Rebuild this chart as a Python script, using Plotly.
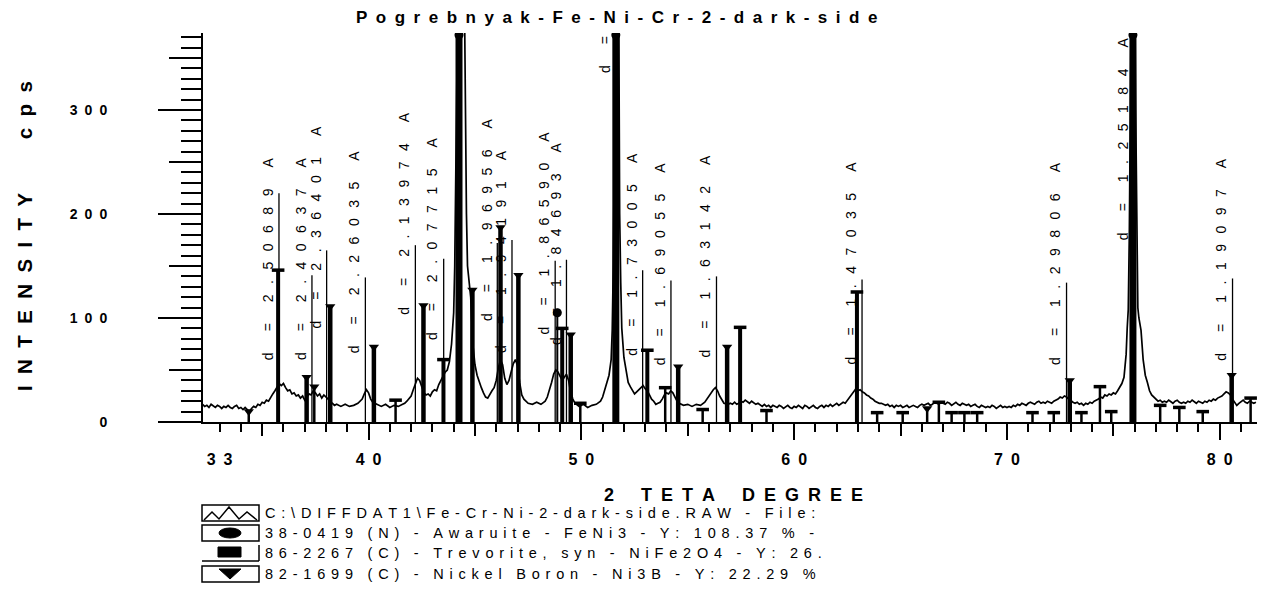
import plotly.graph_objects as go

# ---------------- data ----------------
two_theta = [
    32.2, 32.3, 32.4, 32.5, 32.6, 32.7, 32.8, 32.9, 33.0, 33.1, 33.2, 33.3, 33.4, 33.5, 33.6,
    33.7, 33.8, 33.9, 34.0, 34.1, 34.2, 34.3, 34.4, 34.5, 34.6, 34.7, 34.8, 34.9, 35.0,
    35.1, 35.2, 35.3, 35.4, 35.5, 35.6, 35.7, 35.8, 35.9, 36.0, 36.1, 36.2, 36.3, 36.4, 36.5,
    36.6, 36.7, 36.8, 36.9, 37.0, 37.1, 37.2, 37.3, 37.4, 37.5, 37.6, 37.7, 37.8, 37.9, 38.0,
    38.1, 38.2, 38.3, 38.4, 38.5,
    38.7, 38.9, 39.1, 39.3, 39.5, 39.7, 39.8, 39.9, 40.0, 40.1, 40.2, 40.4, 40.6, 40.8, 41.0,
    41.2, 41.4, 41.6,
    41.7, 41.8, 41.9, 42.0, 42.1, 42.2, 42.3, 42.4, 42.5, 42.6, 42.7, 42.8, 42.9, 43.0, 43.1,
    43.2, 43.3, 43.4, 43.5, 43.6, 43.7, 43.8, 43.9, 44.0, 44.05, 44.1, 44.15, 44.2, 44.3, 44.4,
    44.5, 44.55, 44.6, 44.65, 44.7, 44.8, 44.9, 45.0, 45.1, 45.2, 45.3, 45.4, 45.5, 45.6, 45.7, 45.8,
    45.9, 46.0, 46.1, 46.2, 46.3, 46.4, 46.5, 46.6, 46.7, 46.8, 46.9, 47.0, 47.1, 47.2, 47.3,
    47.4, 47.5, 47.7, 47.9, 48.1, 48.3, 48.4, 48.5, 48.6, 48.7, 48.8, 48.9, 49.0, 49.1, 49.2,
    49.3, 49.4, 49.5, 49.6, 49.7, 49.9, 50.1, 50.3, 50.5, 50.7, 50.9,
    51.0, 51.1, 51.2, 51.3, 51.4, 51.45, 51.5, 51.55, 51.6, 51.7, 51.75, 51.8, 51.85, 51.9,
    52.0, 52.1, 52.2, 52.3, 52.4, 52.5, 52.6, 52.7, 52.8, 52.9, 53.0, 53.1, 53.2, 53.3, 53.4,
    53.5, 53.6, 53.7, 53.8, 53.9,
    54.0, 54.1, 54.2, 54.3, 54.4, 54.5, 54.6, 54.8, 55.0, 55.2, 55.4, 55.6, 55.8, 55.9, 56.0,
    56.1, 56.2, 56.3, 56.4, 56.5, 56.6, 56.7, 56.9,
    57.0, 57.1, 57.2, 57.3, 57.4, 57.5, 57.6, 57.7, 57.8, 57.9,
    58.0, 58.1, 58.2, 58.3, 58.4, 58.5, 58.6, 58.7, 58.8, 58.9,
    59.0, 59.1, 59.2, 59.3, 59.4, 59.5, 59.6, 59.7, 59.8, 59.9,
    60.0, 60.1, 60.2, 60.3, 60.4, 60.5, 60.6, 60.7, 60.8, 60.9,
    61.0, 61.1, 61.2, 61.3, 61.4, 61.5, 61.6, 61.7, 61.8, 61.9,
    62.0, 62.1, 62.2, 62.3, 62.4, 62.5,
    62.6, 62.7, 62.8, 62.9, 63.0, 63.1, 63.2, 63.3, 63.4, 63.5, 63.6, 63.7, 63.8, 63.9, 64.0,
    64.1, 64.2, 64.3, 64.4, 64.5, 64.6, 64.7, 64.8, 64.9, 65.0,
    65.1, 65.2, 65.3, 65.4, 65.5, 65.6, 65.7, 65.8, 65.9, 66.0,
    66.1, 66.2, 66.3, 66.4, 66.5, 66.6, 66.7, 66.8, 66.9, 67.0,
    67.1, 67.2, 67.3, 67.4, 67.5, 67.6, 67.7, 67.8, 67.9, 68.0,
    68.1, 68.2, 68.3, 68.4, 68.5, 68.6, 68.7, 68.8, 68.9, 69.0,
    69.1, 69.2, 69.3, 69.4, 69.5, 69.6, 69.7, 69.8, 69.9, 70.0,
    70.1, 70.2, 70.3, 70.4, 70.5, 70.6, 70.7, 70.8, 70.9, 71.0,
    71.1, 71.2, 71.3, 71.4, 71.5, 71.6, 71.7, 71.8, 71.9, 72.0,
    72.1, 72.2, 72.3, 72.4, 72.5, 72.6, 72.7, 72.8, 72.9, 73.0,
    73.1, 73.2, 73.3, 73.4, 73.5, 73.6, 73.7, 73.8, 73.9, 74.0,
    74.1, 74.2,
    74.3, 74.4, 74.5, 74.6, 74.7, 74.8, 74.9, 75.0, 75.1, 75.2, 75.3, 75.4, 75.5, 75.6, 75.65,
    75.7, 75.75, 75.8, 75.85, 75.9, 76.0, 76.05, 76.1, 76.15, 76.2, 76.3, 76.4, 76.5, 76.6,
    76.7, 76.8, 76.9, 77.0, 77.1, 77.2, 77.3,
    77.4, 77.5, 77.6, 77.7, 77.8, 77.9, 78.0, 78.1, 78.2, 78.3,
    78.4, 78.5, 78.6, 78.7, 78.8, 78.9, 79.0, 79.1, 79.2, 79.3,
    79.4, 79.5, 79.6, 79.7, 79.8, 79.9,
    80.0, 80.1, 80.2, 80.3, 80.4, 80.5, 80.6, 80.7, 80.8, 80.9,
    81.0, 81.1, 81.2, 81.3, 81.4, 81.5, 81.6, 81.7,
]
counts = [
    17, 15, 16, 14, 17, 15, 14, 16, 15, 13, 15, 14, 16, 14, 13,
    15, 16, 13, 14, 12, 14, 12, 10, 13, 15, 14, 17, 16, 19,
    18, 21, 20, 24, 27, 30, 34, 37, 35, 37, 33, 30, 31, 27, 28,
    25, 26, 23, 25, 21, 24, 27, 26, 30, 28, 25, 27, 23, 26, 24,
    22, 19, 18, 16, 17,
    15, 17, 15, 16, 18, 22, 27, 31, 28, 22, 19, 17, 15, 17, 14,
    16, 15, 17,
    18, 20, 22, 25, 31, 37, 42, 40, 33, 28, 26, 27, 25, 29, 31,
    30, 36, 40, 44, 48, 50, 58, 75, 105, 150, 230, 330, 450, 560, 540,
    420, 300, 200, 150, 140, 120, 75, 55, 45, 38, 33, 28, 24, 23, 27, 30,
    33, 40, 52, 60, 55, 42, 36, 40, 48, 56, 60, 54, 38, 26, 22,
    20, 18, 17, 19, 17, 20, 24, 30, 38, 46, 50, 48, 44, 40, 43,
    46, 40, 28, 22, 18, 15, 17, 14, 16, 17, 20,
    24, 30, 38, 45, 60, 88, 150, 260, 400, 470, 430, 200, 134, 90,
    62, 48, 38, 34, 30, 27, 29, 31, 33, 35, 32, 30, 26, 22, 20,
    17, 18, 19, 22, 26,
    28, 27, 30, 28, 24, 20, 18, 16, 17, 15, 17, 16, 19, 22, 26,
    29, 31, 33, 30, 25, 21, 18, 17,
    18, 17, 19, 17, 18, 20, 19, 21, 19, 18,
    20, 18, 17, 18, 16, 15, 17, 15, 16, 14,
    16, 15, 14, 16, 15, 13, 15, 16, 14, 13,
    15, 14, 16, 14, 13, 16, 15, 13, 15, 16,
    14, 13, 15, 16, 14, 16, 15, 17, 15, 17,
    18, 16, 18, 19, 18, 21,
    24, 27, 30, 32, 30, 31, 29, 28, 26, 25, 23, 22, 20, 19, 18,
    18, 17, 16, 17, 15, 16, 14, 16, 15, 16,
    14, 15, 16, 14, 15, 16, 15, 14, 16, 17,
    16, 17, 18, 16, 17, 19, 18, 17, 19, 18,
    17, 19, 18, 16, 18, 19, 17, 16, 18, 17,
    16, 17, 15, 16, 17, 15, 14, 16, 15, 14,
    15, 14, 16, 15, 13, 15, 16, 14, 15, 14,
    15, 14, 16, 15, 17, 16, 18, 17, 16, 18,
    19, 18, 17, 19, 20, 18, 19, 18, 20, 19,
    18, 20, 21, 22, 24, 23, 25, 24, 22, 21,
    19, 18, 19, 17, 18, 16, 18, 17, 19, 18,
    20, 21,
    22, 24, 23, 26, 25, 27, 26, 28, 27, 30, 33, 37, 43, 65, 90,
    108, 180, 330, 430, 460, 440, 300, 160, 110, 100, 88, 60, 45, 38,
    30, 26, 24, 22, 20, 21, 19,
    20, 19, 21, 19, 18, 20, 21, 19, 18, 19,
    18, 20, 19, 21, 19, 18, 20, 19, 18, 20,
    19, 21, 20, 22, 21, 23,
    24, 25, 27, 29, 28, 26, 22, 19, 16, 18,
    20, 21, 19, 18, 20, 19, 18, 19,
]
assert len(two_theta) == len(counts)

# reference patterns (stick positions in 2-theta, heights in cps)
awaruite_pos = [44.25, 48.87, 51.62, 75.92]
awaruite_h = [372, 105, 372, 372]
trevorite_pos = [35.75, 41.27, 43.52, 49.10, 49.95, 53.10, 53.94, 55.70, 57.46, 58.70,
                 62.95, 63.90, 65.10, 66.80, 67.40, 68.00, 68.60, 71.20, 72.20, 73.50,
                 74.37, 74.90, 77.20, 78.10, 79.20, 81.45]
trevorite_h = [146, 21, 60, 90, 18, 69, 33, 12, 91, 11,
               125, 9, 9, 19, 9, 9, 9, 9, 9, 9,
               34, 10, 16, 14, 10, 23]
ni3b_pos = [34.37, 37.09, 37.45, 38.20, 40.25, 42.58, 44.88, 46.20, 47.04, 49.50,
            54.55, 56.85, 66.25, 72.95, 80.56]
ni3b_h = [10, 43, 34, 111, 72, 112, 127, 187, 141, 84, 53, 72, 13, 40, 45]

# d-spacing peak labels
label_pos = [35.79, 37.34, 38.03, 39.85, 42.20, 43.53, 46.05, 46.74, 48.77, 49.30,
             52.88, 54.21, 56.35, 63.19, 72.80, 75.95, 80.60]
label_top = [220, 141, 165, 139, 170, 157, 172, 175, 155, 156,
             146, 136, 140, 137, 134, 372, 138]
label_base = [58, 58, 88, 64, 101, 77, 95, 65, 82, 72,
              62, 53, 60, 53, 53, 173, 57]
label_d = ["2.50689", "2.40637", "2.36401", "2.26035", "2.13974", "2.07715", "1.96956",
           "1.94191", "1.86590", "1.84693", "1.73005", "1.69055", "1.63142", "1.47035",
           "1.29806", "1.25184", "1.19097"]
cut_label_pos = 51.62
cut_label_base = 334

x_tick_vals = [33, 40, 50, 60, 70, 80]
y_tick_vals = [0, 100, 200, 300]

title_text = "Pogrebnyak-Fe-Ni-Cr-2-dark-side"
x_title = "2 TETA DEGREE"
y_title = "INTENSITY cps"
legend_labels = [
    "C:\\DIFFDAT1\\Fe-Cr-Ni-2-dark-side.RAW - File:",
    "38-0419 (N) - Awaruite - FeNi3 - Y: 108.37 % -",
    "86-2267 (C) - Trevorite, syn - NiFe2O4 - Y: 26.",
    "82-1699 (C) - Nickel Boron - Ni3B - Y: 22.29 %",
]

# ---------------- helpers ----------------
FONT = "Liberation Sans, Arial, sans-serif"
W, H = 1266, 594
ML, MR, MT, MB = 203, 9, 33, 172
PW, PH = W - ML - MR, H - MT - MB


def px(x):
    return (x - ML) / PW


def py(y):
    return (H - MB - y) / PH


def spaced(s, sep, word_sep):
    parts = [word_sep if ch == " " else ch for ch in s]
    return sep.join(parts)


def stick_xy(pos, h, keep):
    xs, ys = [], []
    for p, v in zip(pos, h):
        if keep(v):
            xs += [p, p, None]
            ys += [0, v, None]
    return xs, ys


fig = go.Figure()

# spectrum
fig.add_trace(go.Scatter(x=two_theta, y=counts, mode="lines",
                         line=dict(color="black", width=1.7), hoverinfo="skip"))

# label lines (thin)
lx, ly = stick_xy(label_pos + [cut_label_pos], label_top + [372], lambda v: True)
fig.add_trace(go.Scatter(x=lx, y=ly, mode="lines", line=dict(color="black", width=1.3),
                         hoverinfo="skip"))

# sticks
for pos, h, big_w, small_w, thr in [
    (awaruite_pos, awaruite_h, 7, 2, 300),
    (trevorite_pos, trevorite_h, 4, 2.5, 40),
    (ni3b_pos, ni3b_h, 4.5, 2.5, 40),
]:
    for keep, w in [(lambda v, t=thr: v >= t, big_w), (lambda v, t=thr: v < t, small_w)]:
        sx, sy = stick_xy(pos, h, keep)
        if sx:
            fig.add_trace(go.Scatter(x=sx, y=sy, mode="lines",
                                     line=dict(color="black", width=w), hoverinfo="skip"))

# markers on the sticks
fig.add_trace(go.Scatter(x=awaruite_pos, y=awaruite_h, mode="markers",
                         marker=dict(symbol="circle", size=9, color="black"), hoverinfo="skip"))
fig.add_trace(go.Scatter(x=trevorite_pos, y=trevorite_h, mode="markers",
                         marker=dict(symbol="line-ew", size=9,
                                     line=dict(color="black", width=3.5)), hoverinfo="skip"))
fig.add_trace(go.Scatter(x=ni3b_pos, y=ni3b_h, mode="markers",
                         marker=dict(symbol="triangle-down", size=9, color="black"),
                         hoverinfo="skip"))

# dummy traces to activate overlay axes
for xa, ya in [("x2", "y"), ("x3", "y"), ("x", "y2")]:
    fig.add_trace(go.Scatter(x=[None], y=[None], xaxis=xa, yaxis=ya, hoverinfo="skip"))

annotations = []
LSEP = "\u2002\u2005"
for p, b, d in zip(label_pos, label_base, label_d):
    annotations.append(dict(
        x=p, y=b, xref="x", yref="y", xshift=-11, showarrow=False,
        text=spaced("d = " + d + " A", LSEP, ""), textangle=-90,
        xanchor="center", yanchor="bottom",
        font=dict(family=FONT, size=14, color="black")))
annotations.append(dict(
    x=cut_label_pos, y=cut_label_base, xref="x", yref="y", xshift=-11, showarrow=False,
    text=spaced("d =", LSEP, ""), textangle=-90, xanchor="center", yanchor="bottom",
    font=dict(family=FONT, size=14, color="black")))

# titles
annotations.append(dict(
    x=px(616), y=py(18), xref="paper", yref="paper", showarrow=False,
    text=spaced(title_text, "\u2002", ""), xanchor="center", yanchor="middle",
    font=dict(family=FONT, size=17, color="black", weight="bold")))
annotations.append(dict(
    x=px(733), y=py(495), xref="paper", yref="paper", showarrow=False,
    text=spaced(x_title, "\u2002", "\u2002"), xanchor="center", yanchor="middle",
    font=dict(family=FONT, size=18, color="black", weight="bold")))
annotations.append(dict(
    x=px(25), y=py(236), xref="paper", yref="paper", showarrow=False, textangle=-90,
    text=spaced(y_title, "\u00a0\u00a0", "\u2003\u2002"),
    xanchor="center", yanchor="middle",
    font=dict(family=FONT, size=20.5, color="black", weight="bold")))

# legend (drawn below the plot)
shapes = []
rows_y = [513, 533, 553, 574]
LINE = dict(color="black", width=1.5)
for i, (ry, lab) in enumerate(zip(rows_y, legend_labels)):
    annotations.append(dict(
        x=px(263), y=py(ry), xref="paper", yref="paper", showarrow=False,
        text=spaced(lab, "\u2009\u2009", "\u2009"), xanchor="left", yanchor="middle",
        font=dict(family=FONT, size=14.5, color="black")))
    if i != 2:
        shapes.append(dict(type="rect", xref="paper", yref="paper",
                           x0=px(202), x1=px(259), y0=py(ry - 8), y1=py(ry + 8),
                           line=LINE, fillcolor="rgba(0,0,0,0)"))
# row 1 : zig-zag
zz = [(204, 520), (212, 512), (219, 519), (229, 507), (239, 519), (247, 512), (257, 520)]
path = "M " + " L ".join(f"{px(a):.5f},{py(b):.5f}" for a, b in zz)
shapes.append(dict(type="path", xref="paper", yref="paper", path=path, line=LINE))
# row 2 : ellipse
shapes.append(dict(type="circle", xref="paper", yref="paper", x0=px(219), x1=px(241),
                   y0=py(538), y1=py(528), fillcolor="black", line=dict(color="black", width=1)))
# row 3 : filled rectangle with bottom line and right edge
shapes.append(dict(type="rect", xref="paper", yref="paper", x0=px(218), x1=px(241),
                   y0=py(557), y1=py(547), fillcolor="black", line=dict(color="black", width=1)))
shapes.append(dict(type="line", xref="paper", yref="paper", x0=px(202), x1=px(259),
                   y0=py(561), y1=py(561), line=LINE))
shapes.append(dict(type="line", xref="paper", yref="paper", x0=px(259), x1=px(259),
                   y0=py(545), y1=py(561), line=LINE))
# row 4 : triangle
tri = [(219, 569), (241, 569), (230, 579)]
path = "M " + " L ".join(f"{px(a):.5f},{py(b):.5f}" for a, b in tri) + " Z"
shapes.append(dict(type="path", xref="paper", yref="paper", path=path,
                   fillcolor="black", line=dict(color="black", width=1)))

xr = [32.22, 81.75]
yr = [0, 374]
TICKFONT_X = dict(family=FONT, size=16, color="black", weight="bold")
TICKFONT_Y = dict(family=FONT, size=14, color="black", weight="bold")

fig.update_layout(
    width=W, height=H, autosize=False,
    margin=dict(l=ML, r=MR, t=MT, b=MB),
    paper_bgcolor="white", plot_bgcolor="white",
    showlegend=False,
    annotations=annotations, shapes=shapes,
    xaxis=dict(range=xr, tickvals=x_tick_vals,
               ticktext=[spaced(str(v), "\u2002", "") for v in x_tick_vals],
               ticks="outside", ticklen=8, tickwidth=2, tickcolor="black",
               showline=True, linewidth=2, linecolor="black", mirror=False,
               showgrid=False, zeroline=False, tickfont=TICKFONT_X,
               ticklabelstandoff=14, anchor="y",
               minor=dict(dtick=1, tick0=0, ticks="outside", ticklen=8, tickwidth=2,
                          tickcolor="black", showgrid=False)),
    xaxis2=dict(range=xr, overlaying="x", anchor="y", side="bottom",
                tickvals=[35, 45, 55, 65, 75], ticks="outside", ticklen=13, tickwidth=2,
                tickcolor="black", showticklabels=False, showline=False, showgrid=False,
                zeroline=False),
    xaxis3=dict(range=xr, overlaying="x", anchor="y", side="bottom",
                tickvals=[40, 50, 60, 70, 80], ticks="outside", ticklen=17, tickwidth=2,
                tickcolor="black", showticklabels=False, showline=False, showgrid=False,
                zeroline=False),
    yaxis=dict(range=yr, tickvals=y_tick_vals,
               ticktext=[spaced(str(v), "\u2002", "") for v in y_tick_vals],
               ticks="outside", ticklen=43, tickwidth=2, tickcolor="black",
               showline=True, linewidth=2, linecolor="black",
               showgrid=False, zeroline=False, tickfont=TICKFONT_Y,
               ticklabelstandoff=48, anchor="x",
               minor=dict(dtick=10, tick0=0, ticks="outside", ticklen=20, tickwidth=2,
                          tickcolor="black", showgrid=False)),
    yaxis2=dict(range=yr, overlaying="y", anchor="x", side="left",
                tickvals=[50, 150, 250, 350], ticks="outside", ticklen=33, tickwidth=2,
                tickcolor="black", showticklabels=False, showline=False, showgrid=False,
                zeroline=False),
)

fig.write_html("out.html")
